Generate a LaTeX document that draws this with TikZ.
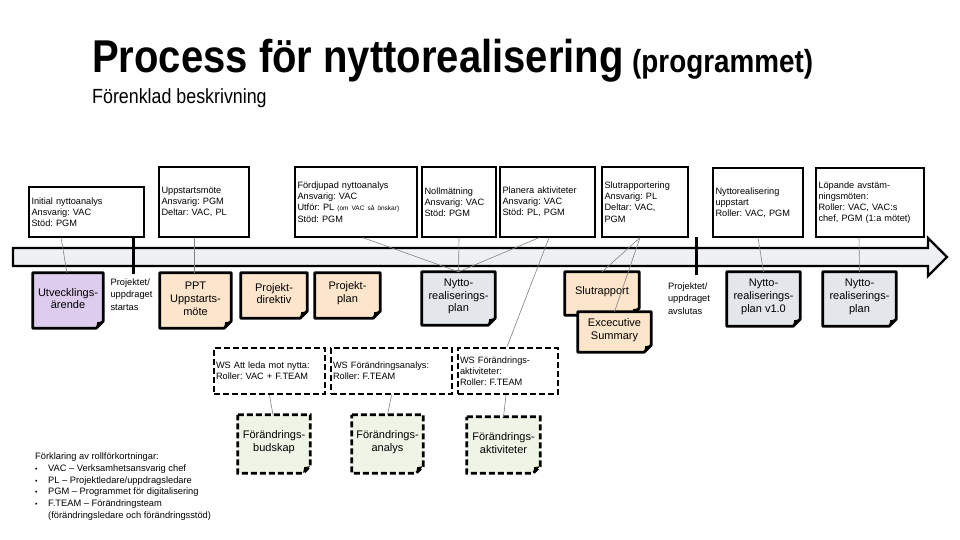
\documentclass[tikz,border=0pt]{standalone}
\usepackage{fontspec}
\setmainfont{Liberation Sans}
\newfontfamily\titlefont[FakeStretch=0.87]{Liberation Sans}
\usetikzlibrary{backgrounds}
\definecolor{Band}{HTML}{EEF0F3}
\definecolor{Lila}{HTML}{DDCCEE}
\definecolor{Peach}{HTML}{FDE5CB}
\definecolor{Grey}{HTML}{E3E6EA}
\definecolor{Mint}{HTML}{EFF5E6}
\definecolor{Link}{HTML}{808080}
\frenchspacing

\begin{document}
\begin{tikzpicture}[x=1pt,y=-1pt,
    box/.style={draw,line width=1.4pt,fill=white,align=left,inner sep=2.5pt,
      font=\fontsize{9.2}{11.2}\selectfont},
    wsbox/.style={box,line width=2.4pt,dash pattern=on 6pt off 3pt,inner sep=2pt},
    doc/.style 2 args={minimum width=#1,minimum height=#2,align=center,inner sep=0pt,
      font=\fontsize{11}{12.8}\selectfont},
    link/.style={draw=Link,line width=0.6pt},
    mile/.style={align=left,inner sep=0pt,font=\fontsize{9.3}{12.5}\selectfont}]
    \useasboundingbox (0,0) rectangle (960,540);
    % rubrik
    \node[anchor=base west,inner sep=0pt,font=\titlefont\bfseries\fontsize{46}{50}\selectfont]
      (title) at (92,73) {Process för nyttorealisering};
    \node[anchor=base west,inner sep=0pt,font=\titlefont\bfseries\fontsize{32}{36}\selectfont]
      (prog) at (632,73) {(programmet)};
    \node[anchor=base west,inner sep=0pt,font=\titlefont\fontsize{20.5}{24}\selectfont]
      (sub) at (92,104) {Förenklad beskrivning};

    % tidslinje
    \filldraw[fill=Band,line width=2.4pt] (13,248) -- (928,248) -- (928,238) -- (947,257)
      -- (928,276) -- (928,266) -- (13,266) -- cycle;
    \draw[line width=3pt] (133,236) -- (133,274);
    \draw[line width=3pt] (696,237) -- (696,275);
    \node[mile] (start) at (131.5,294.5) {Projektet/\\uppdraget\\startas};
    \node[mile] (slutm) at (689,298.5) {Projektet/\\uppdraget\\avslutas};

    % aktiviteter ovanför
    \node[box,text width=110pt,minimum height=50pt] (init) at (86.5,212)
      {Initial nyttoanalys\\Ansvarig: VAC\\Stöd: PGM};
    \node[box,text width=85pt,minimum height=70pt] (upp) at (204,202)
      {Uppstartsmöte\\Ansvarig: PGM\\Deltar: VAC, PL};
    \node[box,text width=117pt,minimum height=70pt] (fordj) at (356,202)
      {Fördjupad nyttoanalys\\Ansvarig: VAC\\Utför: PL {\fontsize{6.5}{8}\selectfont(om VAC så önskar)}\\Stöd: PGM};
    \node[box,text width=69pt,minimum height=70pt] (noll) at (459,202)
      {Nollmätning\\Ansvarig: VAC\\Stöd: PGM};
    \node[box,text width=90pt,minimum height=70pt] (plan) at (547.5,202)
      {Planera aktiviteter\\Ansvarig: VAC\\Stöd: PL, PGM};
    \node[box,text width=81pt,minimum height=70pt] (slutr) at (645,202)
      {Slutrapportering\\Ansvarig: PL\\Deltar: VAC,\\PGM};
    \node[box,text width=85pt,minimum height=69pt] (nuppst) at (758,202.5)
      {Nyttorealisering\\uppstart\\Roller: VAC, PGM};
    \node[box,text width=103pt,minimum height=69pt] (lop) at (870,202.5)
      {Löpande avstäm-\\ningsmöten:\\Roller: VAC, VAC:s\\chef, PGM (1:a mötet)};

    % dokument under tidslinjen
    \node[doc={70pt}{51pt}] (utv) at (68,298.5) {Utvecklings-\\ärende};
    \node[doc={71pt}{51pt}] (ppt) at (195.5,298.5) {PPT\\Uppstarts-\\möte};
    \node[doc={66pt}{41pt}] (dir) at (274,293.5) {Projekt-\\direktiv};
    \node[doc={65pt}{41pt}] (pplan) at (347.5,293.5) {Projekt-\\plan};
    \node[doc={73pt}{49pt}] (nplan) at (458.5,296.5) {Nytto-\\realiserings-\\plan};
    \node[doc={74pt}{39pt}] (slut) at (602,291.5) {Slutrapport};
    \node[doc={73pt}{36pt}] (exec) at (614.5,330) {Excecutive\\Summary};
    \node[doc={73pt}{50pt}] (nplanA) at (763.5,297) {Nytto-\\realiserings-\\plan v1.0};
    \node[doc={73pt}{50pt}] (nplanB) at (859.5,297) {Nytto-\\realiserings-\\plan};

    % workshops
    \node[wsbox,text width=107pt,minimum height=46pt] (ws1) at (269.5,371)
      {WS Att leda mot nytta:\\Roller: VAC + F.TEAM};
    \node[wsbox,text width=117pt,minimum height=46pt] (ws2) at (391.5,371)
      {WS Förändringsanalys:\\Roller: F.TEAM};
    \node[wsbox,text width=96pt,minimum height=46pt] (ws3) at (508,371)
      {WS Förändrings-\\aktiviteter:\\Roller: F.TEAM};
    \node[doc={72pt}{54pt}] (bud) at (274,442) {Förändrings-\\budskap};
    \node[doc={71pt}{54pt}] (ana) at (387.5,442) {Förändrings-\\analys};
    \node[doc={73pt}{52pt}] (akt) at (503.5,443) {Förändrings-\\aktiviteter};

    % dokumentform med vikt hörn
    \begin{scope}[on background layer]
      \foreach \n/\c in {utv/Lila,ppt/Peach,dir/Peach,pplan/Peach,nplan/Grey,
                         slut/Peach,exec/Peach,nplanA/Grey,nplanB/Grey}{
        \filldraw[fill=\c,line width=2.8pt,line join=round]
          (\n.north west) -- (\n.north east) -- ([yshift=3pt]\n.south east)
          -- ([xshift=-7pt,yshift=-4pt]\n.south east) -- ([yshift=-4pt]\n.south west) -- cycle;
        \fill ([yshift=3pt]\n.south east) -- ([xshift=-7pt,yshift=-4pt]\n.south east)
          -- ([xshift=-6pt,yshift=2pt]\n.south east) -- cycle;
      }
      \foreach \n in {bud,ana,akt}{
        \filldraw[fill=Mint,line width=2.8pt,dash pattern=on 6pt off 3pt]
          (\n.north west) -- (\n.north east) -- ([yshift=3pt]\n.south east)
          -- ([xshift=-7pt,yshift=-4pt]\n.south east) -- ([yshift=-4pt]\n.south west) -- cycle;
        \fill ([yshift=3pt]\n.south east) -- ([xshift=-7pt,yshift=-4pt]\n.south east)
          -- ([xshift=-6pt,yshift=2pt]\n.south east) -- cycle;
      }
    \end{scope}

    % kopplingar
    \draw[link] ([xshift=-25.5pt]init.south) -- ([xshift=-1pt]utv.north);
    \draw[link] ([xshift=-10pt]upp.south) -- ([xshift=-1.5pt]ppt.north);
    \draw[link] ([xshift=7pt]fordj.south) -- (nplan.north);
    \draw[link] (noll.south) -- (nplan.north);
    \draw[link] ([xshift=-8.5pt]plan.south) -- (nplan.north);
    \draw[link] ([xshift=1.5pt]plan.south) -- ([xshift=-1pt]ws3.north);
    \draw[link] ([xshift=-5pt]slutr.south) -- (slut.north);
    \draw[link] ([xshift=-5pt]slutr.south) -- (exec.north);
    \draw[link] (nuppst.south) -- (nplanA.north);
    \draw[link] ([xshift=-11pt]lop.south) -- (nplanB.north);
    \draw[link] (ws1.south) -- ([xshift=-1pt]bud.north);
    \draw[link] (ws2.south) -- (ana.north);
    \draw[link] ([xshift=-2pt]ws3.south) -- (akt.north);

    % förklaring
    \node[anchor=north west,align=left,inner sep=0pt,font=\fontsize{9.3}{11.8}\selectfont]
      (legend) at (35,452.5)
      {Förklaring av rollförkortningar:\\
       \makebox[13pt][l]{\scriptsize•}VAC – Verksamhetsansvarig chef\\
       \makebox[13pt][l]{\scriptsize•}PL – Projektledare/uppdragsledare\\
       \makebox[13pt][l]{\scriptsize•}PGM – Programmet för digitalisering\\
       \makebox[13pt][l]{\scriptsize•}F.TEAM – Förändringsteam\\
       \hspace*{13pt}(förändringsledare och förändringsstöd)};
\end{tikzpicture}
\end{document}
